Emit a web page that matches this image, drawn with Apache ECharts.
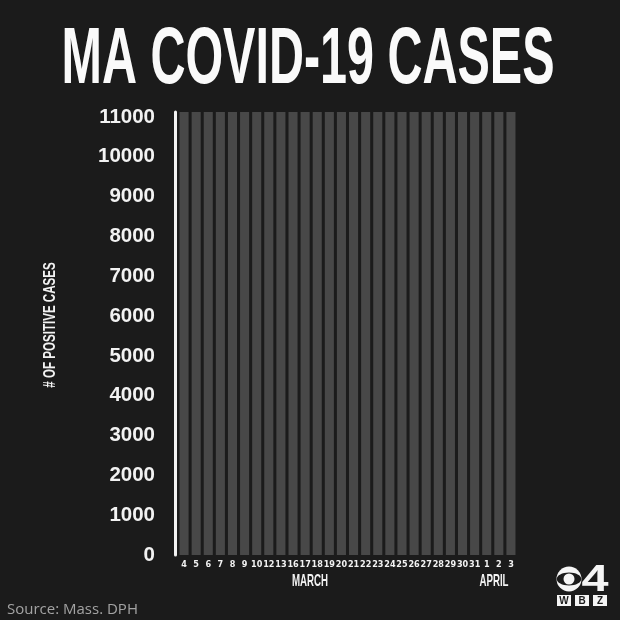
<!DOCTYPE html>
<html><head><meta charset="utf-8">
<script src="https://cdn.jsdelivr.net/npm/echarts@6/dist/echarts.min.js"></script>
<style>html,body{margin:0;padding:0;background:#1b1b1b}#c{width:620px;height:620px}</style>
</head><body><div id="c"></div>
<script>
const chartTitle = 'MA COVID-19 CASES';
const categories = ['4','5','6','7','8','9','10','12','13','16','17','18','19','20','21','22','23','24','25','26','27','28','29','30','31','1','2','3'];
const cases = [0,0,0,0,0,0,0,0,0,0,0,0,0,0,0,0,0,0,0,0,0,0,0,0,0,0,0,0];
const monthLabels = ['MARCH','APRIL'];
const yAxisTitle = '# OF POSITIVE CASES';
const sourceText = 'Source: Mass. DPH';
const yTickStep = 1000;
const yTopTick = 11000;

const chart = echarts.init(document.getElementById('c'), null, {renderer:'canvas'});
const condensed = '"DejaVu Sans Condensed","Liberation Sans",sans-serif';
function txt(text, x, y, font, fill, sx, rot, extra){
  return Object.assign({type:'text', x:x, y:y, scaleX:sx||1, rotation:rot||0, silent:true,
    style:{text:text, font:font, fill:fill, align:'center', verticalAlign:'middle', textAlign:'center', textVerticalAlign:'middle'}}, extra||{});
}
chart.setOption({
  backgroundColor:'#1b1b1b',
  animation:false,
  grid:{left:178, right:103, top:112, bottom:65, containLabel:false},
  xAxis:{type:'category', data:categories,
    axisLine:{show:false}, axisTick:{show:false},
    axisLabel:{interval:0, color:'#f2f2f2', fontFamily:condensed, fontWeight:'bold', fontSize:9, margin:5}},
  yAxis:{type:'value', min:0, max:11125, interval:yTickStep, offset:3,
    splitLine:{show:false}, axisTick:{show:false},
    axisLine:{show:true, lineStyle:{color:'#f2f2f2', width:3}},
    axisLabel:{color:'#f2f2f2', fontFamily:'"Liberation Sans",Arial,sans-serif', fontWeight:'bold', fontSize:20.5, margin:20,
      formatter:function(v){ return (v % yTickStep === 0 && v <= yTopTick) ? String(v) : ''; }}},
  series:[{type:'bar', data:cases, barCategoryGap:'25%', showBackground:true,
    backgroundStyle:{color:'#484848'}, itemStyle:{color:'#d0d0d0'}}],
  graphic:[
    txt(chartTitle, 308, 61, 'bold 80px "Liberation Sans"', '#fafafa', 0.606),
    txt(monthLabels[0], 310, 581, 'bold 17px "Liberation Sans"', '#f2f2f2', 0.57),
    txt(monthLabels[1], 494, 581, 'bold 17px "Liberation Sans"', '#f2f2f2', 0.57),
    txt(yAxisTitle, 50, 325, 'bold 17px "Liberation Sans"', '#f2f2f2', 0.68, Math.PI/2),
    {type:'text', x:7, y:610, silent:true, style:{text:sourceText, font:'15px "Open Sans"', fill:'#a3a3a3', align:'left', verticalAlign:'middle', textAlign:'left', textVerticalAlign:'middle'}},
    {type:'group', silent:true, children:[
      {type:'circle', shape:{cx:569, cy:579, r:12.5}, style:{fill:'#f5f5f5'}},
      {type:'ellipse', shape:{cx:569, cy:579, rx:12.3, ry:6.5}, style:{fill:'#1b1b1b'}},
      {type:'circle', shape:{cx:569, cy:579, r:5.5}, style:{fill:'#f5f5f5'}},
      txt('4', 595, 581, 'bold 36px "Liberation Sans"', '#f5f5f5', 1.35),
      {type:'rect', shape:{x:557, y:595, width:14, height:11}, style:{fill:'#f5f5f5'}},
      {type:'rect', shape:{x:575, y:595, width:14, height:11}, style:{fill:'#f5f5f5'}},
      {type:'rect', shape:{x:593, y:595, width:14, height:11}, style:{fill:'#f5f5f5'}},
      txt('W', 564, 601, 'bold 10px "Liberation Sans"', '#1b1b1b', 1),
      txt('B', 582, 601, 'bold 10px "Liberation Sans"', '#1b1b1b', 1),
      txt('Z', 600, 601, 'bold 10px "Liberation Sans"', '#1b1b1b', 1)
    ]}
  ]
});
</script></body></html>
